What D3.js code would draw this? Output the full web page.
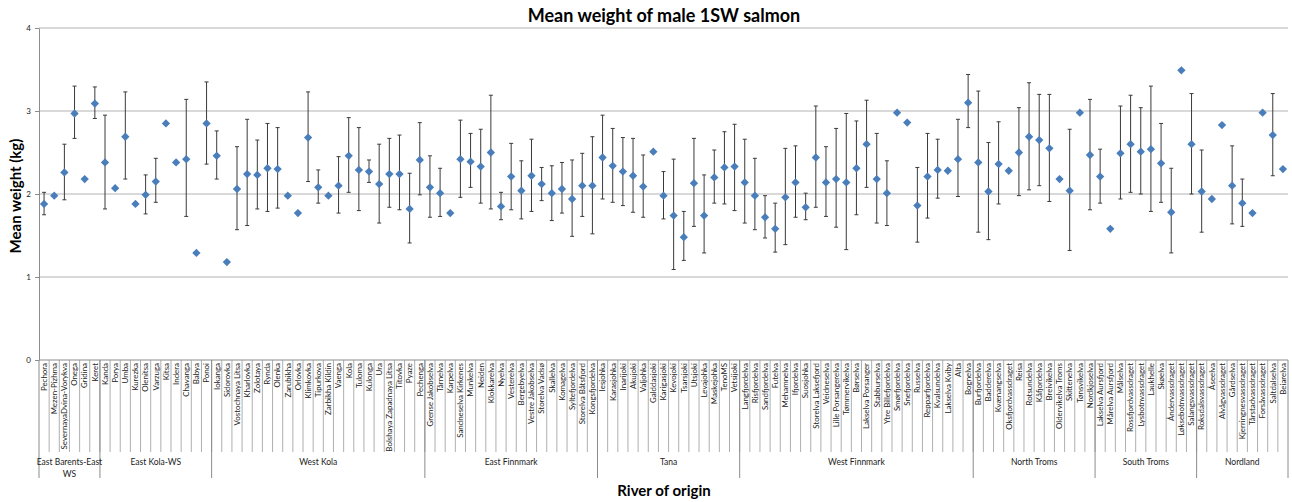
<!DOCTYPE html>
<html>
<head>
<meta charset="utf-8">
<script src="https://cdn.jsdelivr.net/npm/d3@7"></script>
<style>
  body { margin: 0; background: #fff; }
  text { font-family: Lato, "Open Sans", sans-serif; }
</style>
</head>
<body>
<div id="chart"></div>
<script>
// river names, in plot order
const rivers = [
  'Pechora', 'Mezen-Pizhma', 'SevernayaDvina-Vorykva', 'Onega', 'Gridina', 'Keret',
  'Kanda', 'Porya', 'Umba', 'Kurezka', 'Olenitsa', 'Varzuga', 'Kitsa', 'Indera', 'Chavanga', 'Babya', 'Ponoi',
  'Iokanga', 'Sidorovka', 'Vostochnaya Litsa', 'Kharlovka', 'Zolotaya', 'Rynda', 'Olenka', 'Zarubikha',
  'Orlovka', 'Klimkovka', 'Tipurkova', 'Zarbikha Kildin', 'Vaenga', 'Kola', 'Tuloma', 'Kulonga', 'Ura',
  'Bolshaya Zapadnaya Litsa', 'Titovka', 'Pyaze', 'Pechenga',
  'Grense Jakobselva', 'Tårnelva', 'Karpelva', 'Sandneselva Kirkenes', 'Munkelva', 'Neiden', 'Klokkarelva',
  'Nyelva', 'Vesterelva', 'Bergebyelva', 'Vestre Jakobselva', 'Storelva Vadsø', 'Skallelva', 'Komagelva',
  'Syltefjordelva', 'Storelva Båtsfjord', 'Kongsfjordelva',
  'Iesjohka', 'Karasjohka', 'Inarijoki', 'Akujoki', 'Valjohka', 'Galddasjoki', 'Karigasjoki', 'Kevojoki',
  'Tsarsjoki', 'Utsjoki', 'Levajohka', 'Maskejohka', 'TenoMS', 'Vetsijoki',
  'Langfjordelva', 'Risfjordelva', 'Sandfjordelva', 'Futelva', 'Mehamnelva', 'Ifjordelva', 'Suosjohka',
  'Storelva Laksefjord', 'Veidneselva', 'Lille Porsangerelva', 'Tømmervikelva', 'Børselva',
  'Lakselva Porsanger', 'Stabburselva', 'Ytre Billefjordelva', 'Smørfjordelva', 'Snefjordelva', 'Russelva',
  'Repparfjordelva', 'Kvalsundelva', 'Lakselva Kviby', 'Alta', 'Bognelva',
  'Burfjordelva', 'Badderelva', 'Kvænangselva', 'Oksfjordvassdraget', 'Reisa', 'Rotsundelva', 'Kåfjordelva',
  'Breivikelva', 'Oldervikelva Troms', 'Skittenelva', 'Tønsvikelva', 'Nordkjoselva',
  'Lakselva Aursfjord', 'Mårelva Aursfjord', 'Målselva', 'Rossfjordvassdraget', 'Lysbotnvassdraget',
  'Laukhelle', 'Skøelva', 'Åndervassdraget', 'Løksebotnvassdraget', 'Salangsvassdraget',
  'Roksdalsvassdraget', 'Åseelva', 'Alvågvassdraget', 'Gårdselva', 'Kjerringnesvassdraget',
  'Tårstadvassdraget', 'Forsåvassdraget', 'Saltdalselva', 'Beiarelva'
]

const regions = ['East Barents-East WS', 'East Kola-WS', 'West Kola', 'East Finnmark', 'Tana',
  'West Finnmark', 'North Troms', 'South Troms', 'Nordland']
const regionSizes = [6, 11, 21, 17, 14, 23, 12, 10, 9]

// mean weight (kg)
const meanWeight = [
  1.88, 1.98, 2.26, 2.97, 2.18, 3.09,
  2.38, 2.07, 2.69, 1.88, 1.99, 2.15, 2.85, 2.38, 2.42, 1.29, 2.85,
  2.46, 1.18, 2.06, 2.24, 2.23, 2.31, 2.30, 1.98, 1.77, 2.68, 2.08, 1.98, 2.10, 2.46, 2.29, 2.27, 2.12,
  2.24, 2.24, 1.82, 2.41,
  2.08, 2.01, 1.77, 2.42, 2.39, 2.33, 2.50, 1.85, 2.21, 2.04, 2.22, 2.12, 2.01, 2.06, 1.94, 2.10, 2.10,
  2.44, 2.34, 2.27, 2.22, 2.09, 2.51, 1.98, 1.74, 1.48, 2.13, 1.74, 2.20, 2.32, 2.33,
  2.14, 1.98, 1.72, 1.58, 1.96, 2.14, 1.84, 2.44, 2.14, 2.18, 2.14, 2.31, 2.60, 2.18, 2.01, 2.98, 2.86,
  1.86, 2.21, 2.29, 2.28, 2.42, 3.10,
  2.38, 2.03, 2.36, 2.28, 2.50, 2.69, 2.65, 2.55, 2.18, 2.04, 2.98, 2.47,
  2.21, 1.58, 2.49, 2.60, 2.51, 2.54, 2.37, 1.78, 3.49, 2.60,
  2.03, 1.94, 2.83, 2.10, 1.89, 1.77, 2.98, 2.71, 2.30
]

// error bar ends (kg), null where no bar is drawn
const errHigh = [
  2.02, null, 2.60, 3.30, null, 3.29,
  2.95, null, 3.23, null, 2.23, 2.43, null, null, 3.14, null, 3.35,
  2.76, null, 2.57, 2.90, 2.65, 2.85, 2.80, null, null, 3.23, 2.29, null, 2.45, 2.92, 2.80, 2.41, 2.60,
  2.67, 2.71, 2.25, 2.86,
  2.46, 2.31, null, 2.89, 2.73, 2.78, 3.19, 2.02, 2.61, 2.40, 2.66, 2.32, 2.34, 2.38, 2.41, 2.49, 2.69,
  2.95, 2.79, 2.68, 2.67, 2.47, null, 2.27, 2.42, 1.79, 2.67, 2.23, 2.53, 2.75, 2.84,
  2.66, 2.43, 1.98, 1.89, 2.55, 2.58, 2.01, 3.06, 2.57, 2.79, 2.97, 2.88, 3.13, 2.73, 2.40, null, null,
  2.32, 2.73, 2.66, null, 2.90, 3.44,
  3.24, 2.62, 2.87, null, 3.04, 3.34, 3.20, 3.20, null, 2.78, null, 3.14,
  2.54, null, 3.06, 3.19, 3.04, 3.30, 2.85, 2.31, null, 3.21,
  2.53, null, null, 2.58, 2.18, null, null, 3.21, null
]
const errLow = [
  1.75, null, 1.93, 2.67, null, 2.91,
  1.82, null, 2.18, null, 1.76, 1.90, null, null, 1.73, null, 2.36,
  2.18, null, 1.57, 1.62, 1.82, 1.79, 1.83, null, null, 2.15, 1.89, null, 1.77, 2.02, 1.80, 2.14, 1.65,
  1.84, 1.81, 1.41, 1.99,
  1.72, 1.73, null, 1.96, 2.08, 1.89, 1.82, 1.69, 1.81, 1.70, 1.79, 1.92, 1.68, 1.77, 1.49, 1.73, 1.52,
  1.94, 1.90, 1.86, 1.78, 1.72, null, 1.70, 1.09, 1.20, 1.61, 1.29, 1.89, 1.88, 1.80,
  1.65, 1.57, 1.47, 1.30, 1.39, 1.72, 1.69, 1.84, 1.73, 1.60, 1.33, 1.75, 2.08, 1.65, 1.62, null, null,
  1.42, 1.71, 1.95, null, 1.97, 2.80,
  1.54, 1.45, 1.88, null, 1.98, 2.05, 2.10, 1.91, null, 1.32, null, 1.81,
  1.89, null, 1.94, 2.02, 2.00, 1.79, 1.90, 1.29, null, 2.00,
  1.54, null, null, 1.64, 1.61, null, null, 2.22, null
]

const yTicks = [0, 1, 2, 3, 4]

const width = 1292
const height = 502
const plot = {left: 39, right: 1288, top: 28, bottom: 360}
const tickBottom = 452
const groupBottom = 478

const svg = d3.select('#chart')
  .append('svg')
  .attr('width', width)
  .attr('height', height)

const x = d3.scaleBand()
  .domain(rivers)
  .range([plot.left, plot.right])
  .padding(0)

const y = d3.scaleLinear()
  .domain([0, 4])
  .range([plot.bottom, plot.top])

// gridlines
svg.append('g')
  .selectAll('line')
  .data(yTicks.filter(d => d > 0))
  .enter()
  .append('line')
  .attr('x1', plot.left)
  .attr('x2', plot.right)
  .attr('y1', d => y(d))
  .attr('y2', d => y(d))
  .attr('stroke', '#b4b4b4')
  .attr('stroke-width', 1.2)

// y axis
const yAxis = svg.append('g')
  .attr('transform', `translate(${plot.left},0)`)
  .call(d3.axisLeft(y).tickValues(yTicks).tickFormat(d3.format('d'))
    .tickSize(4).tickSizeOuter(0).tickPadding(4))
yAxis.select('.domain').attr('stroke', '#8c8c8c')
yAxis.selectAll('.tick line').attr('stroke', '#8c8c8c')
yAxis.selectAll('text').attr('font-size', 8).attr('fill', '#222')

// category axis: baseline, separators and labels
const cat = svg.append('g')
cat.append('line')
  .attr('x1', plot.left).attr('x2', plot.right)
  .attr('y1', plot.bottom).attr('y2', plot.bottom)
  .attr('stroke', '#8c8c8c')

cat.selectAll('line.sep')
  .data(rivers.slice(1))
  .enter()
  .append('line')
  .attr('class', 'sep')
  .attr('x1', d => x(d)).attr('x2', d => x(d))
  .attr('y1', plot.bottom).attr('y2', tickBottom)
  .attr('stroke', '#9a9a9a')
  .attr('stroke-width', 0.8)

cat.selectAll('text')
  .data(rivers)
  .enter()
  .append('text')
  .attr('transform', d => `translate(${x(d) + x.bandwidth() / 2 + 2.8},${plot.bottom + 3}) rotate(-90)`)
  .attr('text-anchor', 'end')
  .attr('font-size', 7.9)
  .attr('fill', '#222')
  .text(d => d)

// region groups
let start = 0
const groups = regions.map((name, i) => {
  const g = {name, first: rivers[start], last: rivers[start + regionSizes[i] - 1]}
  start += regionSizes[i]
  return g
})

const edges = [plot.left].concat(groups.map(g => x(g.last) + x.bandwidth()))
cat.selectAll('line.grp')
  .data(edges)
  .enter()
  .append('line')
  .attr('class', 'grp')
  .attr('x1', d => d).attr('x2', d => d)
  .attr('y1', plot.bottom).attr('y2', groupBottom)
  .attr('stroke', '#8c8c8c')

const groupText = cat.selectAll('text.grp')
  .data(groups)
  .enter()
  .append('text')
  .attr('class', 'grp')
  .attr('x', g => (x(g.first) + x(g.last) + x.bandwidth()) / 2)
  .attr('y', 465)
  .attr('text-anchor', 'middle')
  .attr('font-size', 8.5)
  .attr('fill', '#222')

groupText.filter(g => g.name === 'East Barents-East WS')
  .each(function () {
    const t = d3.select(this)
    t.append('tspan').attr('x', t.attr('x')).text('East Barents-East')
    t.append('tspan').attr('x', t.attr('x')).attr('dy', 11.5).text('WS')
  })
groupText.filter(g => g.name !== 'East Barents-East WS').text(g => g.name)

// error bars
const bars = rivers.map((r, i) => ({r, hi: errHigh[i], lo: errLow[i]})).filter(d => d.hi !== null)
const eb = svg.append('g')
  .attr('stroke', '#3a3a3a')
  .attr('stroke-width', 1)
eb.selectAll('line.v')
  .data(bars)
  .enter()
  .append('line')
  .attr('x1', d => x(d.r) + x.bandwidth() / 2)
  .attr('x2', d => x(d.r) + x.bandwidth() / 2)
  .attr('y1', d => y(d.hi))
  .attr('y2', d => y(d.lo))
;['hi', 'lo'].forEach(k => {
  eb.selectAll(`line.${k}`)
    .data(bars)
    .enter()
    .append('line')
    .attr('class', k)
    .attr('x1', d => x(d.r) + x.bandwidth() / 2 - 2)
    .attr('x2', d => x(d.r) + x.bandwidth() / 2 + 2)
    .attr('y1', d => y(d[k]))
    .attr('y2', d => y(d[k]))
})

// mean markers
svg.append('g')
  .selectAll('path')
  .data(rivers)
  .enter()
  .append('path')
  .attr('d', d3.symbol().type(d3.symbolDiamond2).size(44))
  .attr('transform', (d, i) => `translate(${x(d) + x.bandwidth() / 2},${y(meanWeight[i])})`)
  .attr('fill', '#4a7ebb')

// titles
svg.append('text')
  .attr('x', 664)
  .attr('y', 22)
  .attr('text-anchor', 'middle')
  .attr('font-size', 18)
  .attr('font-weight', 'bold')
  .text('Mean weight of male 1SW salmon')

svg.append('text')
  .attr('transform', `translate(21,${(plot.top + plot.bottom) / 2 + 2}) rotate(-90)`)
  .attr('text-anchor', 'middle')
  .attr('font-size', 15)
  .attr('font-weight', 'bold')
  .text('Mean weight (kg)')

svg.append('text')
  .attr('x', 664)
  .attr('y', 496)
  .attr('text-anchor', 'middle')
  .attr('font-size', 15)
  .attr('font-weight', 'bold')
  .text('River of origin')
</script>
</body>
</html>
